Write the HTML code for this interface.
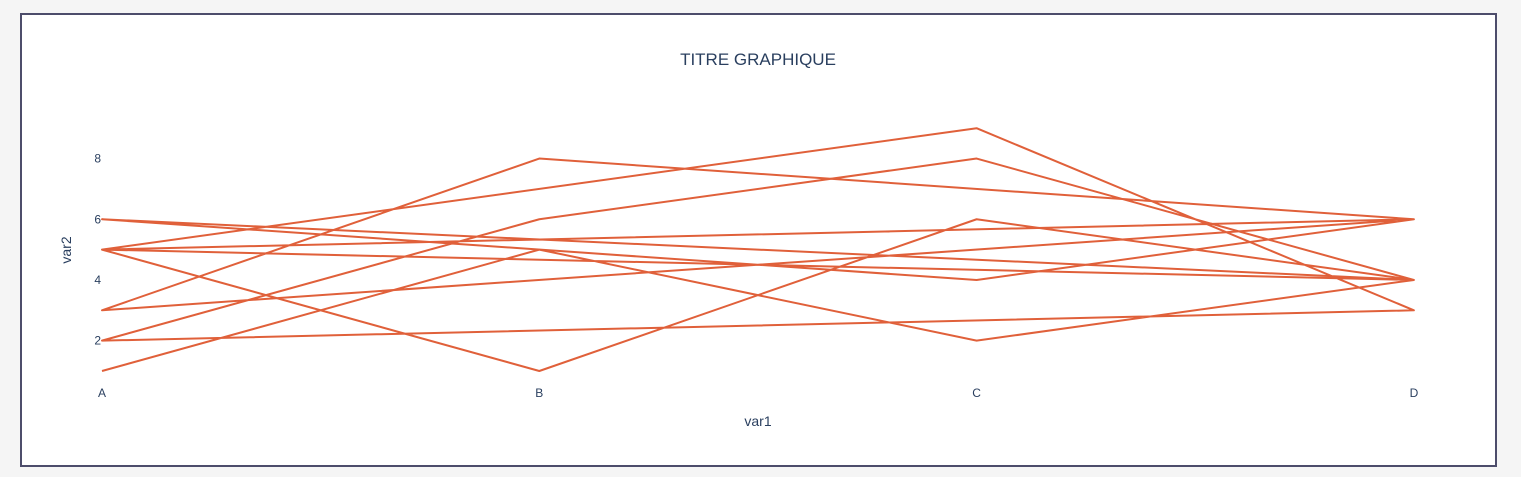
<!DOCTYPE html>
<html><head><meta charset="utf-8"><style>
body{margin:0;background:#f5f5f5;width:1521px;height:477px;overflow:hidden;font-family:"Liberation Sans",sans-serif}
#box{position:absolute;left:20px;top:13px;width:1473px;height:450px;border:2px solid #4d4d6b;background:#fff}
</style></head><body>
<div id="box"></div>
<svg id="chart" width="1521" height="477" style="position:absolute;left:0;top:0">
<text x="758" y="65" text-anchor="middle" font-size="17" fill="#2a3f5f">TITRE GRAPHIQUE</text>
<text x="758" y="426" text-anchor="middle" font-size="14" fill="#2a3f5f">var1</text>
<text transform="translate(71,250) rotate(-90)" text-anchor="middle" font-size="14" fill="#2a3f5f">var2</text>
<g id="xt"></g><g id="yt"></g><g id="lines"></g>
</svg>
<script>
const categories=["A","B","C","D"];
const xSeq=["A","B","C","D","C","B","A","D","C","A","B","C","D","A","C","D","B","A","D","A","D"];
const ySeq=[1,5,2,4,8,6,2,3,9,5,1,6,4,6,4,6,8,3,6,5,4];
const yTicks=[2,4,6,8];
const ns="http://www.w3.org/2000/svg";
function xs(c){return 102+categories.indexOf(c)*437.3;}
function ys(v){return 371-(v-1)*30.35;}
const xt=document.getElementById('xt'),yt=document.getElementById('yt'),lg=document.getElementById('lines');
categories.forEach(c=>{const t=document.createElementNS(ns,'text');t.setAttribute('x',xs(c));t.setAttribute('y',397);t.setAttribute('text-anchor','middle');t.setAttribute('font-size','12');t.setAttribute('fill','#2a3f5f');t.textContent=c;


xt.appendChild(t);});
yTicks.forEach(v=>{const t=document.createElementNS(ns,'text');t.setAttribute('x',101);t.setAttribute('y',ys(v)+4);t.setAttribute('text-anchor','end');t.setAttribute('font-size','12');t.setAttribute('fill','#2a3f5f');t.textContent=v;


yt.appendChild(t);});
const p=document.createElementNS(ns,'polyline');
p.setAttribute('points',xSeq.map((c,i)=>xs(c)+','+ys(ySeq[i])).join(' '));
p.setAttribute('fill','none');p.setAttribute('stroke','#e0603a');p.setAttribute('stroke-width','2');p.setAttribute('stroke-linejoin','round');


lg.appendChild(p);
</script>
</body></html>
